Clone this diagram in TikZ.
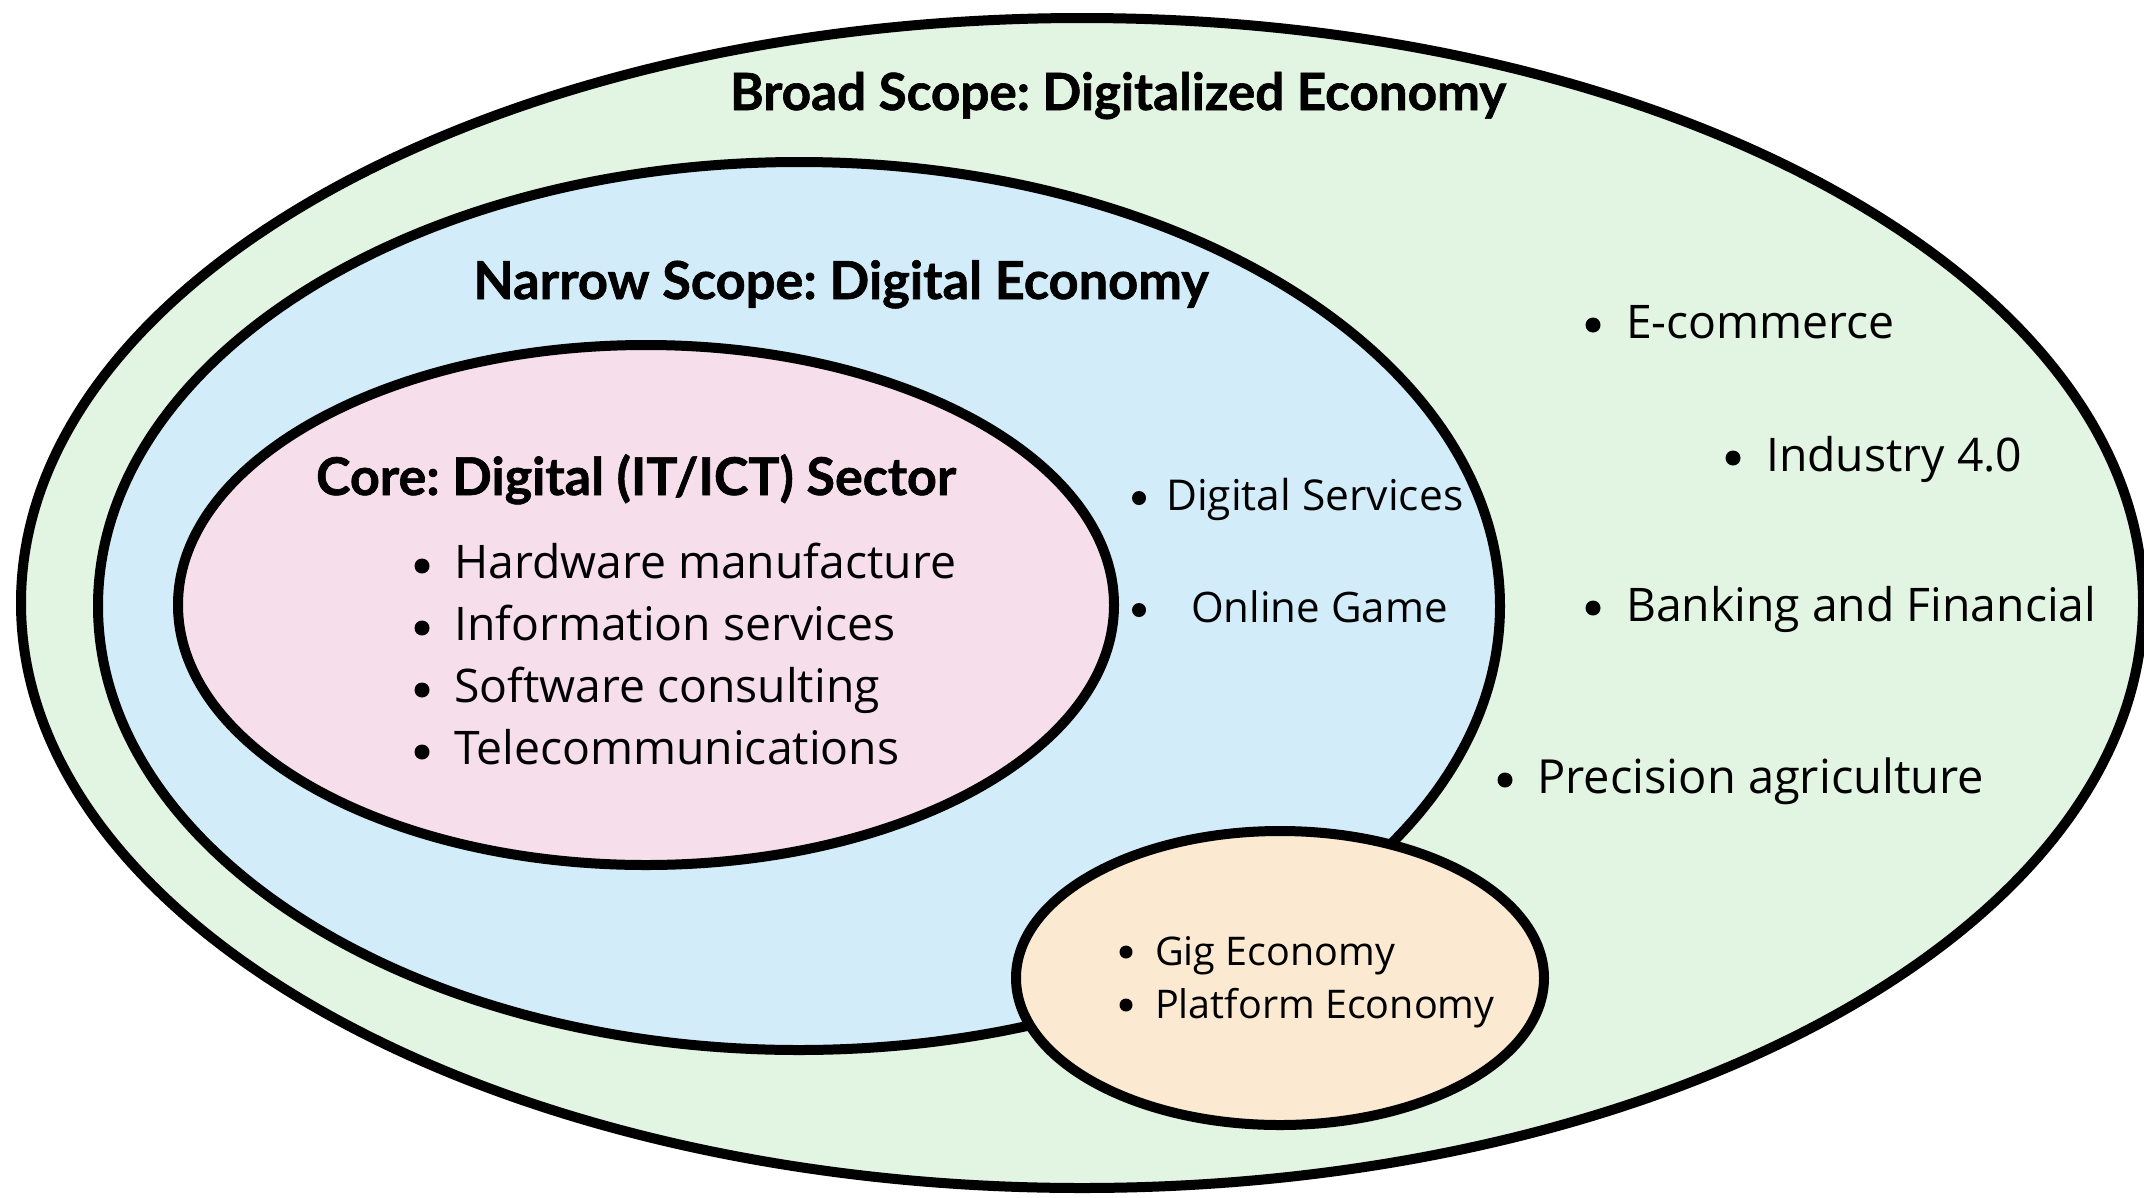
\documentclass[tikz,border=0pt]{standalone}
\usepackage{fontspec}
\setmainfont{Open Sans}
\newfontfamily\headfont{Lato}[BoldFeatures={FakeBold=1.2}]
\usetikzlibrary{shapes.geometric}
\definecolor{outerfill}{HTML}{E2F4E2}
\definecolor{bluefill}{HTML}{D2EDF9}
\definecolor{pinkfill}{HTML}{F6DEEB}
\definecolor{peachfill}{HTML}{FBEAD1}
\frenchspacing
\begin{document}
\begin{tikzpicture}[x=1pt,y=-1pt,
  zone/.style={ellipse, draw=black, line width=10pt, inner sep=0pt},
  headtxt/.style={font=\headfont\bfseries\fontsize{51.2}{60}\selectfont, anchor=base, inner sep=0pt},
  bigtxt/.style={font=\fontsize{46.3}{55}\selectfont, anchor=base west, inner sep=0pt},
  midtxt/.style={font=\fontsize{42.5}{50}\selectfont, anchor=base west, inner sep=0pt},
  smalltxt/.style={font=\fontsize{39.5}{46}\selectfont, anchor=base west, inner sep=0pt},
  bigbul/.style={circle, fill=black, inner sep=0pt, minimum size=15pt},
  midbul/.style={circle, fill=black, inner sep=0pt, minimum size=14pt},
  smallbul/.style={circle, fill=black, inner sep=0pt, minimum size=13pt}
]
\useasboundingbox (0,0) rectangle (2144,1197);
\fill[white] (0,0) rectangle (2144,1197);
% zones
\node[zone, fill=outerfill, minimum width=2122pt, minimum height=1170pt] (broad) at (1082,603) {};
\node[zone, fill=bluefill, minimum width=1402pt, minimum height=888pt] (narrow) at (799,606) {};
\node[zone, fill=pinkfill, minimum width=936pt, minimum height=520pt] (core) at (646,605) {};
\node[zone, fill=peachfill, minimum width=528pt, minimum height=294pt] (gig) at (1280,978) {};
% titles
\node[headtxt] (broadtitle) at (1118,110) {Broad Scope: Digitalized Economy};
\node[headtxt, font=\headfont\bfseries\fontsize{52.3}{60}\selectfont] (narrowtitle) at (841,299) {Narrow Scope: Digital Economy};
\node[headtxt, font=\headfont\bfseries\fontsize{52}{60}\selectfont] (coretitle) at (636,495) {Core: Digital (IT/ICT) Sector};
% core items
\node[bigbul] (cb1) at (422,566) {};
\node[bigtxt] (hw) at (454,578) {Hardware manufacture};
\node[bigbul] (cb2) at (422,628) {};
\node[bigtxt] (is) at (454,640) {Information services};
\node[bigbul] (cb3) at (422,690) {};
\node[bigtxt] (sc) at (454,702) {Software consulting};
\node[bigbul] (cb4) at (422,752) {};
\node[bigtxt] (tc) at (454,764) {Telecommunications};
% narrow items
\node[midbul] (nb1) at (1139,498) {};
\node[midtxt] (ds) at (1166,510) {Digital Services};
\node[midbul] (nb2) at (1139,610) {};
\node[midtxt, font=\fontsize{42}{50}\selectfont] (og) at (1191,622) {Online Game};
% broad items
\node[bigbul] (bb1) at (1593,325) {};
\node[bigtxt] (ec) at (1626,338) {E-commerce};
\node[bigbul] (bb2) at (1733,458) {};
\node[bigtxt] (ind) at (1766,471) {Industry 4.0};
\node[bigbul] (bb3) at (1593,608) {};
\node[bigtxt] (bank) at (1626,621) {Banking and Financial};
\node[bigbul] (bb4) at (1505,780) {};
\node[bigtxt, font=\fontsize{47}{55}\selectfont] (prec) at (1537,793) {Precision agriculture};
% gig items
\node[smallbul] (gb1) at (1126,952) {};
\node[smalltxt] (ge) at (1155,965) {Gig Economy};
\node[smallbul] (gb2) at (1126,1005) {};
\node[smalltxt] (pe) at (1155,1018) {Platform Economy};
\end{tikzpicture}
\end{document}
